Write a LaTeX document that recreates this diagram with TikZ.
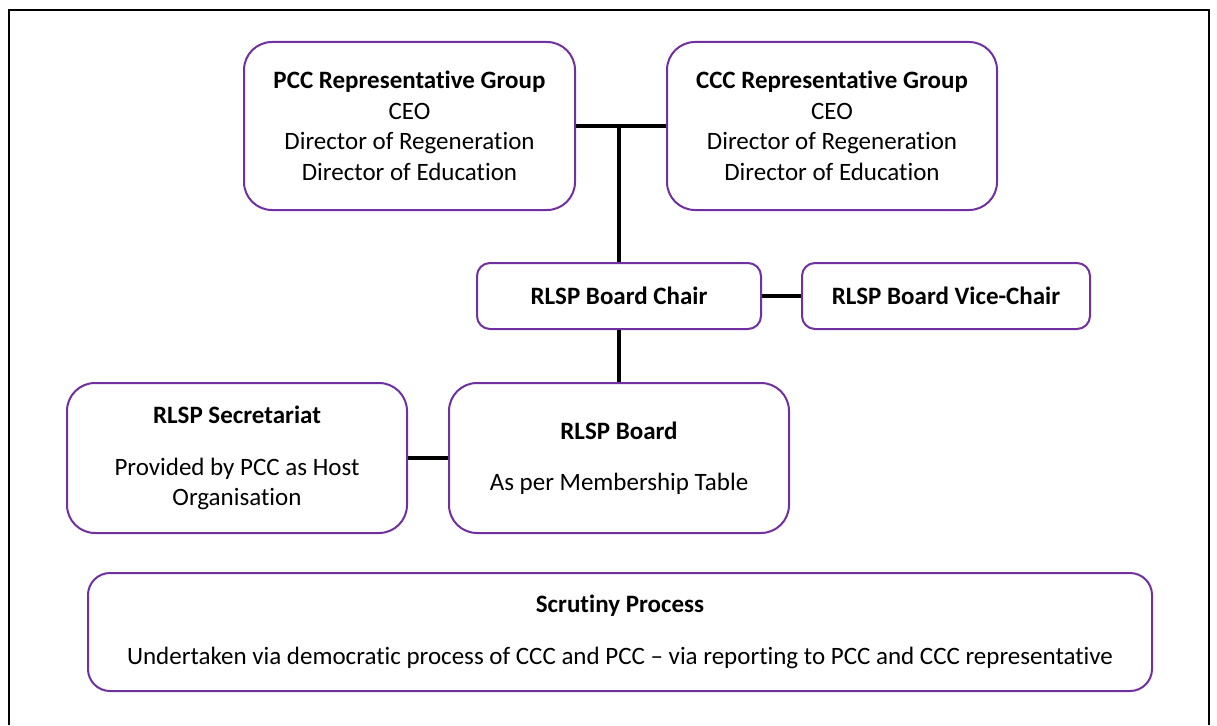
\documentclass[tikz,border=0pt]{standalone}
\usepackage{fontspec}
\setmainfont[Ligatures=NoCommon]{Carlito}
\definecolor{boxpurple}{HTML}{7030A0}

\begin{document}
\begin{tikzpicture}[x=1pt,y=-1pt,
  box/.style={draw=boxpurple,line width=2pt,fill=white,rounded corners=#1,
    align=center,inner sep=0pt,font=\fontsize{25}{30.5}\selectfont},
  box/.default=28pt,
  link/.style={line width=3.5pt}]
\useasboundingbox (0,0) rectangle (1217,725);
% outer frame, open at the bottom
\draw[line width=2pt] (9,725) -- (9,10) -- (1209,10) -- (1209,725);

% representative groups
\node[box, minimum width=331pt, minimum height=168pt] (pcc) at (409.5,126)
  {\textbf{PCC Representative Group}\\CEO\\Director of Regeneration\\Director of Education};
\node[box, minimum width=330pt, minimum height=168pt] (ccc) at (832,126)
  {\textbf{CCC Representative Group}\\CEO\\Director of Regeneration\\Director of Education};

% chair and vice-chair
\node[box=13pt, minimum width=284pt, minimum height=66pt] (chair) at (619,296)
  {\textbf{RLSP Board Chair}};
\node[box=13pt, minimum width=288pt, minimum height=66pt] (vice) at (946,296)
  {\textbf{RLSP Board Vice-Chair}};

% board and secretariat
\node[box, minimum width=340pt, minimum height=150pt] (board) at (619,458)
  {\textbf{RLSP Board}\\[21pt]As per Membership Table};
\node[box, minimum width=340pt, minimum height=150pt] (sec) at (237,458)
  {\textbf{RLSP Secretariat}\\[21pt]Provided by PCC as Host\\Organisation};

% scrutiny
\node[box=22pt, minimum width=1064pt, minimum height=118pt] (scrut) at (620,632)
  {\textbf{Scrutiny Process}\\[21pt]Undertaken via democratic process of CCC and PCC -- via reporting to PCC and CCC representative};

% connectors
\coordinate (junc) at (chair.north |- pcc.east);
\draw[link] (pcc.east) -- (ccc.west);
\draw[link] (junc) -- (chair.north);
\draw[link] (chair.east) -- (vice.west);
\draw[link] (chair.south) -- (board.north);
\draw[link] (sec.east) -- (board.west);
\end{tikzpicture}
\end{document}
